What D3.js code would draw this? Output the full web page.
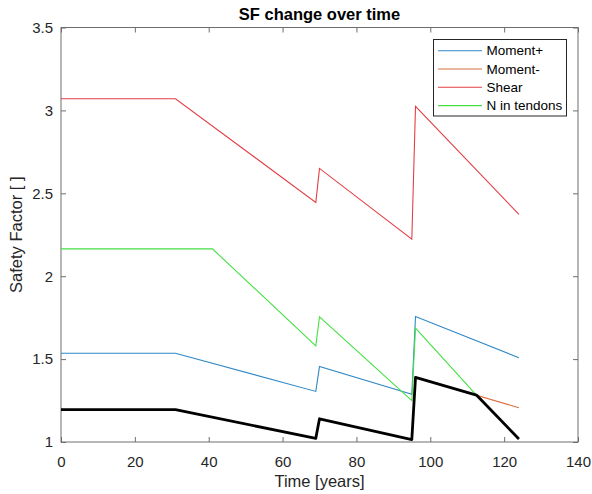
<!DOCTYPE html>
<html>
<head>
<meta charset="utf-8">
<script src="https://cdn.jsdelivr.net/npm/d3@7"></script>
<style>
  html, body { margin: 0; padding: 0; background: #fff; }
  svg { display: block; font-family: "Liberation Sans", Arial, Helvetica, sans-serif; }
</style>
</head>
<body>
<svg id="chart" width="592" height="494"></svg>
<script>
// ---- data ----
const seriesNames = ["Moment+", "Moment-", "Shear", "N in tendons"];

const momentPlusT = [0, 31, 69, 70, 95, 96, 124];
const momentPlusV = [1.535, 1.535, 1.305, 1.455, 1.288, 1.757, 1.508];

const momentMinusT = [0, 31, 69, 70, 95, 96, 124];
const momentMinusV = [1.195, 1.195, 1.022, 1.140, 1.015, 1.390, 1.207];

const shearT = [0, 31, 69, 70, 95, 96, 124];
const shearV = [3.07, 3.07, 2.445, 2.65, 2.223, 3.025, 2.373];

const tendonT = [0, 41, 69, 70, 95, 96, 112.5, 124];
const tendonV = [2.165, 2.165, 1.58, 1.755, 1.25, 1.687, 1.283, 1.018];

const minT = [0, 31, 69, 70, 95, 96, 112.5, 124];
const minV = [1.195, 1.195, 1.022, 1.140, 1.015, 1.390, 1.283, 1.018];

const xTicks = [0, 20, 40, 60, 80, 100, 120, 140];
const yTicks = [1, 1.5, 2, 2.5, 3, 3.5];
const yTickLabels = ["1", "1.5", "2", "2.5", "3", "3.5"];

const titleText = "SF change over time";
const xLabel = "Time [years]";
const yLabel = "Safety Factor [ ]";

// ---- drawing ----
const colors = ["#3189c6", "#da6d3c", "#e23f45", "#44e044"];
const svg = d3.select("#chart");
const L = 61, R = 578, T = 27.5, B = 442;

const x = d3.scaleLinear().domain([0, 140]).range([L, R]);
const y = d3.scaleLinear().domain([1, 3.5]).range([B, T]);

const axisColor = "#6e6e6e";
const textColor = "#262626";

function styleAxis(g, showLabels) {
  g.select(".domain").remove();
  g.selectAll(".tick line").attr("stroke", axisColor).attr("stroke-width", 1);
  if (!showLabels) g.selectAll(".tick text").remove();
  else g.selectAll(".tick text").attr("fill", textColor).style("font-size", "15px")
        .style("font-family", '"Liberation Sans", Arial, sans-serif');
}

svg.append("g").attr("transform", `translate(0,${B})`)
  .call(d3.axisBottom(x).tickValues(xTicks).tickSize(-5).tickPadding(14).tickFormat(d3.format("d")))
  .call(g => styleAxis(g, true));
svg.append("g").attr("transform", `translate(0,${T})`)
  .call(d3.axisTop(x).tickValues(xTicks).tickSize(-5))
  .call(g => styleAxis(g, false));
svg.append("g").attr("transform", `translate(${L},0)`)
  .call(d3.axisLeft(y).tickValues(yTicks).tickSize(-5).tickPadding(8).tickFormat((d, i) => yTickLabels[i]))
  .call(g => styleAxis(g, true));
svg.append("g").attr("transform", `translate(${R},0)`)
  .call(d3.axisRight(y).tickValues(yTicks).tickSize(-5))
  .call(g => styleAxis(g, false));

// box
svg.append("rect").attr("x", L).attr("y", T).attr("width", R - L).attr("height", B - T)
  .attr("fill", "none").attr("stroke", axisColor).attr("stroke-width", 1);

const line = d3.line().x(d => x(d[0])).y(d => y(d[1]));
const zip = (a, b) => a.map((v, i) => [v, b[i]]);

const series = [
  zip(momentPlusT, momentPlusV),
  zip(momentMinusT, momentMinusV),
  zip(shearT, shearV),
  zip(tendonT, tendonV)
];
svg.append("clipPath").attr("id", "pc").append("rect")
  .attr("x", L).attr("y", T).attr("width", R - L).attr("height", B - T);
const plot = svg.append("g").attr("clip-path", "url(#pc)");
series.forEach((s, i) => {
  plot.append("path").datum(s).attr("d", line)
    .attr("fill", "none").attr("stroke", colors[i]).attr("stroke-width", 1.1);
});
plot.append("path").datum(zip(minT, minV)).attr("d", line)
  .attr("fill", "none").attr("stroke", "#000").attr("stroke-width", 2.8)
  .attr("stroke-linejoin", "round");

// legend
const lg = svg.append("g");
lg.append("rect").attr("x", 433.5).attr("y", 39.5).attr("width", 133).attr("height", 76.5)
  .attr("fill", "#fff").attr("stroke", "#262626").attr("stroke-width", 1);
seriesNames.forEach((n, i) => {
  const yy = 50.7 + i * 18.3;
  lg.append("line").attr("x1", 438).attr("x2", 482).attr("y1", yy).attr("y2", yy)
    .attr("stroke", colors[i]).attr("stroke-width", 1.1);
  lg.append("text").attr("x", 486.5).attr("y", yy).attr("dy", "0.35em")
    .style("font-size", "13.5px").attr("fill", "#000").text(n);
});

// title & labels
svg.append("text").attr("x", (L + R) / 2).attr("y", 20).attr("text-anchor", "middle")
  .style("font-size", "16.5px").style("font-weight", "bold").attr("fill", "#000").text(titleText);
svg.append("text").attr("x", (L + R) / 2).attr("y", 487).attr("text-anchor", "middle")
  .style("font-size", "16.5px").attr("fill", textColor).text(xLabel);
svg.append("text").attr("transform", `translate(22,${(T + B) / 2}) rotate(-90)`)
  .attr("text-anchor", "middle").style("font-size", "16.5px").attr("fill", textColor).text(yLabel);
</script>
</body>
</html>
